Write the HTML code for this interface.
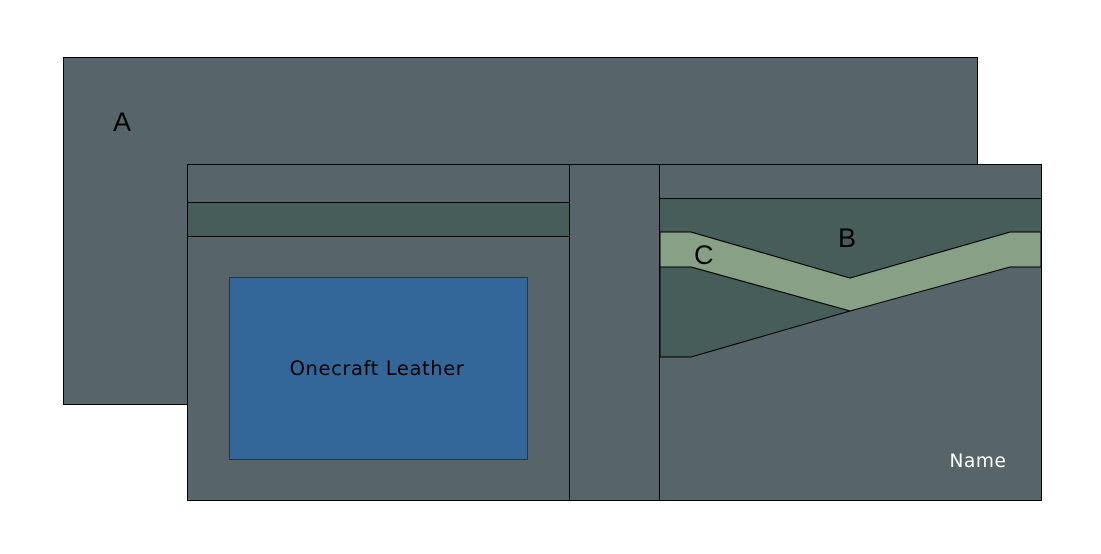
<!DOCTYPE html>
<html><head><style>body{margin:0;background:#fff}</style></head><body>
<svg width="1101" height="549" xmlns="http://www.w3.org/2000/svg" font-family="Liberation Sans, sans-serif">
<rect x="63.5" y="57.5" width="914" height="347" fill="#57646a" stroke="#000"/>
<text x="113" y="131" font-size="27" fill="#000">A</text>
<rect x="187.5" y="164.5" width="382" height="336" fill="#57646a" stroke="#000"/>
<rect x="187.5" y="202.5" width="382" height="34" fill="#465d59" stroke="#000"/>
<rect x="229.5" y="277.5" width="298" height="182" fill="#336699" stroke="#1f3550"/>
<text x="377" y="375" font-size="19.5" font-family="DejaVu Sans, sans-serif" text-anchor="middle" fill="#000" letter-spacing="0.6">Onecraft Leather</text>
<rect x="569.5" y="164.5" width="90" height="336" fill="#57646a" stroke="#000"/>
<rect x="659.5" y="164.5" width="382" height="336" fill="#57646a" stroke="#000"/>
<rect x="659.5" y="198.5" width="382" height="34" fill="#465d59" stroke="#000"/>
<polygon points="660,232 691,232 850,278 1010,232 1041,232 1041,267 1010,267 850,311 691,267 660,267" fill="#87a086" stroke="#000"/>
<polygon points="660,232 691,232 850,278 1010,232 1041,232 1041,199 660,199" fill="#465d59"/>
<polyline points="660,232 691,232 850,278 1010,232 1041,232" fill="none" stroke="#000"/>
<polygon points="660,267 691,267 850,311 691,357 660,357" fill="#465d59" stroke="#000"/>
<line x1="659.5" y1="164" x2="659.5" y2="500" stroke="#000"/>
<text x="838" y="247" font-size="27" fill="#000">B</text>
<text x="694" y="264" font-size="27" fill="#000">C</text>
<text x="978" y="467" font-size="18.5" font-family="DejaVu Sans, sans-serif" text-anchor="middle" fill="#fff" letter-spacing="0.6">Name</text>
</svg>
</body></html>
